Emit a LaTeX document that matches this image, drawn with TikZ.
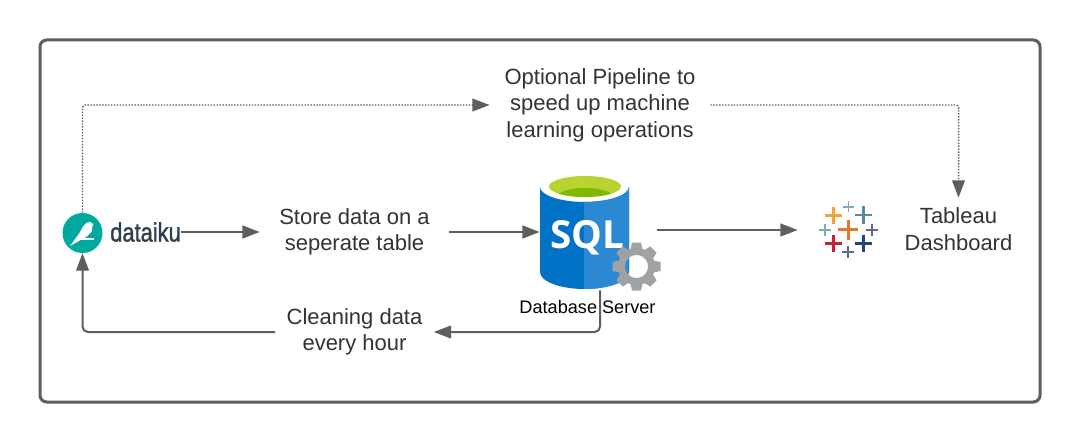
\documentclass[tikz,border=0pt]{standalone}
\usepackage{fontspec}
\setmainfont{Liberation Sans}
\newfontfamily\sqlfont{Open Sans}
\newfontfamily\dkufont[FakeBold=1.5]{Liberation Sans}
\usepackage{tikz}
\usetikzlibrary{arrows.meta}
\usetikzlibrary{positioning}
\definecolor{linegray}{HTML}{5E5E5E}
\definecolor{textgray}{HTML}{333333}
\definecolor{gearcol}{HTML}{A0A1A2}
\definecolor{sqldark}{HTML}{0072C6}
\definecolor{sqllight}{HTML}{2B88D2}
\definecolor{sqlgreen}{HTML}{B8D432}
\definecolor{sqlleaf}{HTML}{7FBA00}
\definecolor{dkuteal}{HTML}{00A99D}
\definecolor{dkutext}{HTML}{2D3E4E}
\definecolor{tabA}{HTML}{E8762B}
\definecolor{tabB}{HTML}{F0A43C}
\definecolor{tabC}{HTML}{7FA9B8}
\definecolor{tabD}{HTML}{59879B}
\definecolor{tabE}{HTML}{5C6692}
\definecolor{tabF}{HTML}{C72035}
\definecolor{tabG}{HTML}{1F447E}

\begin{document}
\begin{tikzpicture}[x=.75pt,y=-.75pt]
\useasboundingbox (0,0) rectangle (1080,442);
\fill[white] (0,0) rectangle (1080,442);

\def\px{.75pt}
\tikzset{>={Triangle[length=13pt,width=9.5pt]}}
\tikzstyle{label} = [
	draw=none, fill=none, inner sep=0pt, align=center, text=textgray,
	font=\fontsize{16.5}{19.9}\selectfont ];
\tikzstyle{flow} = [->, draw=linegray, line width=1.5pt, rounded corners=4pt];
\tikzstyle{dotflow} = [->, draw=linegray, line width=1.1pt, rounded corners=2pt,
	dash pattern=on 1.1pt off 1.1pt];
\tikzstyle{icon} = [draw=none, fill=none, inner sep=0pt];

\draw[linegray, line width=2.25pt, rounded corners=5pt] (40,40) rectangle (1040,402);

% sql cylinder
\def\sqlbody{(540,187) -- (540,272) .. controls (540,281.4) and (560,289) .. (584.5,289)
	.. controls (609,289) and (629,281.4) .. (629,272) -- (629,187)
	.. controls (629,195) and (609,202) .. (584.5,202)
	.. controls (560,202) and (540,195) .. (540,187) -- cycle}
\fill[sqldark] \sqlbody;
\begin{scope}
\clip (584,170) rectangle (640,295);
\fill[sqllight] \sqlbody;
\end{scope}
\fill[sqlgreen] (585,186.5) ellipse [x radius=36, y radius=10.5];
\begin{scope}
\clip (585,186.5) ellipse [x radius=36, y radius=10.5];
\fill[sqlleaf] (585,198.5) ellipse [x radius=30, y radius=10.5];
\end{scope}
\node[icon, text=white, font=\sqlfont\bfseries\fontsize{29}{29}\selectfont] (sqltext) at (587,238) { SQL };

% gear
\draw[gearcol, line width=5.25pt] (636.5,266.5) circle [radius=15];
\foreach \a in {0,45,...,315} {
	\fill[gearcol, rotate around={\a:(636.5,266.5)}] (632,242.5) -- (641,242.5) -- (643,252) -- (630,252) -- cycle;
}

% bird logo
\node[icon, circle, fill=dkuteal, minimum size=40*\px] (bird) at (82.5,233) { };
\fill[white] (70,246) -- (79.3,233.3) -- (83.3,226) -- (86.7,222.7) -- (90,222) -- (93.3,224)
	-- (92.3,226.7) -- (91.7,231.7) -- (86.7,236.7) -- (81.7,239.3) -- (75,243.3) -- cycle;
\fill[white] (81,238.3) rectangle (94,239.6);
\node[icon, anchor=east, text=dkutext, xscale=.82, transform shape, font=\dkufont\fontsize{20}{20}\selectfont] (dku) at (181,232) { dataiku };

% tableau logo
\node[icon, minimum width=100*\px, minimum height=60*\px] (tab) at (848,230) { };
\foreach \x/\y/\r/\w/\c in {
	848.3/229.7/10/2.2/tabA, 833.3/215.3/8.7/1.8/tabB, 848.3/206.7/5.7/1.2/tabC,
	863.3/215/8.7/1.8/tabD, 825/230/5.7/1.2/tabC, 871.7/229.7/6/1.5/tabE,
	833.3/243.3/8.7/1.8/tabF, 863.3/243.3/8.7/1.8/tabG, 848.3/251.7/6/1.5/tabE} {
	\draw[\c, line width=\w pt] (\x-\r,\y) -- (\x+\r,\y) (\x,\y-\r) -- (\x,\y+\r);
}

\node[icon, minimum width=120*\px, minimum height=118*\px] (sql) at (600,231) { };
\node[label, minimum width=220*\px] (pipe) at (600,105) { Optional Pipeline to\\speed up machine\\learning operations };
\node[label, minimum width=189*\px] (store) at (354.5,232) { Store data on a\\seperate table };
\node[label, minimum width=158*\px] (clean) at (354.5,332) { Cleaning data\\every hour };
\node[label, minimum height=62*\px] (dash) at (958.5,229) { Tableau\\Dashboard };
\node[icon, text=black, font=\fontsize{13.6}{15}\selectfont] (dbname) at (587.5,307.5) { Database Server };

\draw[flow] (dku.east) -- (store.west);
\draw[flow] (store.east) -- (store.east -| sql.west);
\draw[flow, shorten <=-2.25pt] (sql.east |- tab.west) -- (tab.west);
\draw[flow] (sql.south) |- (clean.east);
\draw[flow] (clean.west) -| (bird.south);
\draw[dotflow] (bird.north) |- (pipe.west);
\draw[dotflow] (pipe.east) -| (dash.north);

\end{tikzpicture}
\end{document}
